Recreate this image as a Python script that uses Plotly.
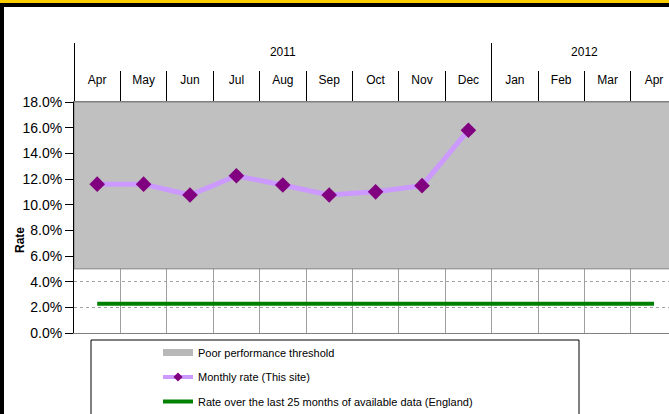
import plotly.graph_objects as go

# ---- data ----
months = ["Apr", "May", "Jun", "Jul", "Aug", "Sep", "Oct", "Nov", "Dec",
          "Jan", "Feb", "Mar", "Apr"]
month_years = ["2011"] * 9 + ["2012"] * 4
monthly_rate = [0.116, 0.116, 0.1075, 0.1225, 0.1153, 0.1075, 0.110, 0.1148, 0.158]
england_rate = [0.0228] * 13
threshold_low = 0.05
threshold_high = 0.18
y_ticks = [0.0, 0.02, 0.04, 0.06, 0.08, 0.10, 0.12, 0.14, 0.16, 0.18]

# ---- layout helpers (pixel geometry) ----
W, H = 669, 414
ML, MR, MT, MB = 74, 0, 30, 81
PW, PH = W - ML - MR, H - MT - MB
plot_h = 231
band_w = 46.4

def px_x(px):
    return (px - ML) / PW

def px_y(py):
    return (H - MB - py) / PH

n = len(months)
idx = list(range(n))
boundaries = [i - 0.5 for i in range(n + 1)]
xr = [-0.5, -0.5 + PW / band_w]

years = []
for y in month_years:
    if y not in years:
        years.append(y)
year_centers = [sum(i for i in idx if month_years[i] == y) / month_years.count(y) for y in years]
year_bounds = [-0.5] + [i + 0.5 for i in range(n - 1) if month_years[i] != month_years[i + 1]] + [n - 0.5]

FONT = "Liberation Sans, Arial, sans-serif"

fig = go.Figure()

# poor performance band (single bar across all categories)
fig.add_trace(go.Bar(
    x=[(n - 1) / 2], y=[threshold_high - threshold_low], base=[threshold_low],
    width=[n], marker=dict(color="#C0C0C0", line=dict(color="#808080", width=1)),
    name="Poor performance threshold", hoverinfo="skip", showlegend=False,
))

fig.add_trace(go.Scatter(
    x=idx[:len(monthly_rate)], y=monthly_rate, mode="lines+markers",
    line=dict(color="#CC99FF", width=5),
    marker=dict(symbol="diamond", size=12, color="#800080"),
    name="Monthly rate (This site)", showlegend=False,
))

fig.add_trace(go.Scatter(
    x=idx, y=england_rate, mode="lines",
    line=dict(color="#008000", width=4),
    name="Rate over the last 25 months of available data (England)", showlegend=False,
))

# legend proxies (styled like the original legend keys)
fig.add_trace(go.Scatter(x=[None], y=[None], mode="lines",
                         line=dict(color="#B8B8B8", width=7),
                         name="Poor performance threshold", legendgroup="a"))
fig.add_trace(go.Scatter(x=[None], y=[None], mode="lines+markers",
                         line=dict(color="#CC99FF", width=4),
                         marker=dict(symbol="diamond", size=7, color="#800080"),
                         name="Monthly rate (This site)", legendgroup="b"))
fig.add_trace(go.Scatter(x=[None], y=[None], mode="lines",
                         line=dict(color="#008000", width=4),
                         name="Rate over the last 25 months of available data (England)",
                         legendgroup="c"))

# empty traces so the overlaying label axes get drawn
for ax in ["x2", "x3", "x4"]:
    fig.add_trace(go.Scatter(x=idx, y=[None] * n, xaxis=ax, yaxis="y",
                             showlegend=False, hoverinfo="skip", mode="lines"))

common_x = dict(type="linear", range=xr, zeroline=False, autorange=False)

fig.update_layout(
    width=W, height=H, autosize=False,
    margin=dict(l=ML, r=MR, t=MT, b=MB, pad=0, autoexpand=False),
    paper_bgcolor="white", plot_bgcolor="white",
    font=dict(family=FONT, size=12, color="black"),
    barmode="overlay",
    showlegend=True,
    legend=dict(x=px_x(158), y=px_y(338), xanchor="left", yanchor="top",
                bgcolor="rgba(0,0,0,0)", borderwidth=0,
                font=dict(size=11, family=FONT), tracegroupgap=5.5,
                traceorder="grouped"),
    xaxis=dict(**common_x, side="top", anchor="y",
               tickmode="array", tickvals=boundaries, ticks="outside", ticklen=30,
               tickcolor="black", tickwidth=1, showticklabels=False,
               showgrid=True, gridcolor="#A0A0A0", gridwidth=1,
               showline=True, linecolor="#808080", linewidth=1, mirror=True),
    xaxis2=dict(**common_x, overlaying="x", anchor="free", position=px_y(71),
                side="bottom", tickmode="array", tickvals=idx, ticktext=months,
                ticks="", showline=False, showgrid=False,
                tickfont=dict(size=12)),
    xaxis3=dict(**common_x, overlaying="x", anchor="free", position=px_y(43),
                side="bottom", tickmode="array", tickvals=year_centers, ticktext=years,
                ticks="", showline=False, showgrid=False,
                tickfont=dict(size=12)),
    xaxis4=dict(**common_x, overlaying="x", anchor="y", side="top",
                tickmode="array", tickvals=year_bounds, ticks="outside", ticklen=58,
                tickcolor="black", showticklabels=False, showline=False, showgrid=False),
    yaxis=dict(domain=[0, plot_h / PH], range=[0, 0.18], tickmode="array",
               tickvals=y_ticks, tickformat=".1%", ticks="outside", ticklen=8,
               tickcolor="black", showline=True, linecolor="black", linewidth=1,
               showgrid=True, gridcolor="#A0A0A0", griddash="dot", zeroline=False,
               tickfont=dict(size=14)),
)

# y-axis title as annotation (overlapping the tick labels like the original)
fig.add_annotation(text="<b>Rate</b>", xref="paper", yref="paper",
                   x=px_x(20), y=px_y(240), textangle=-90, showarrow=False,
                   font=dict(size=12, family=FONT), xanchor="center", yanchor="middle")

# legend border box
fig.add_shape(type="rect", xref="paper", yref="paper",
              x0=px_x(91), x1=px_x(579), y0=px_y(425), y1=px_y(340),
              line=dict(color="black", width=1), fillcolor="rgba(0,0,0,0)")

# outer frame: yellow band on top, black rules
fig.add_shape(type="rect", xref="paper", yref="paper",
              x0=px_x(-5), x1=px_x(680), y0=px_y(3), y1=px_y(-5),
              line=dict(width=0), fillcolor="#FFCC00")
fig.add_shape(type="rect", xref="paper", yref="paper",
              x0=px_x(-5), x1=px_x(680), y0=px_y(7), y1=px_y(3),
              line=dict(width=0), fillcolor="black")
fig.add_shape(type="rect", xref="paper", yref="paper",
              x0=px_x(-5), x1=px_x(4), y0=px_y(425), y1=px_y(3),
              line=dict(width=0), fillcolor="black")

fig.write_html("out.html", config={"displayModeBar": False},
               post_script="document.body.style.margin='0';")
